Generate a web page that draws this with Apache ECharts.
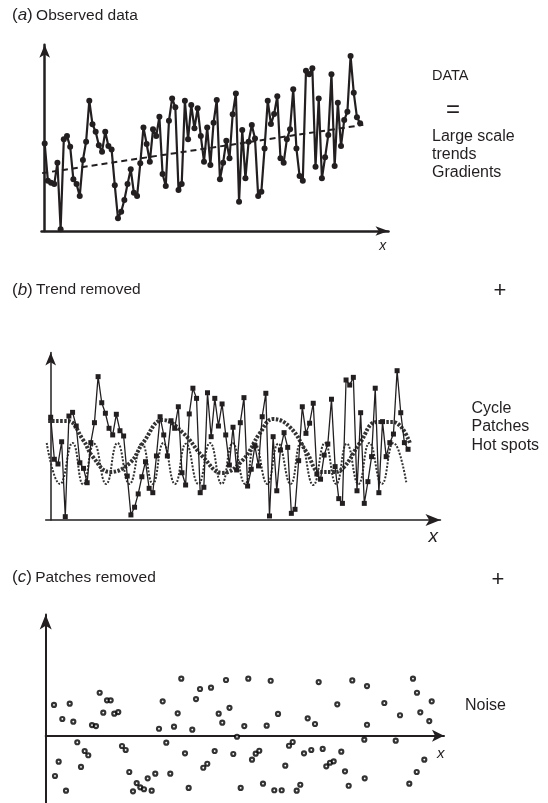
<!DOCTYPE html>
<html><head><meta charset="utf-8">
<script src="https://cdn.jsdelivr.net/npm/echarts@6/dist/echarts.min.js"></script>
<style>html,body{margin:0;padding:0;background:#fff}#c{width:548px;height:803px}</style>
</head><body><div id="c"></div>
<script>
// (a) observed data, one value per sample along x
const obsValues = [45.4,26.1,25.0,24.3,35.4,0.9,47.5,49.2,43.7,26.8,
24.3,18.1,36.8,46.3,67.5,55.3,51.4,44.5,41.1,51.4,
44.0,42.3,23.7,6.6,10.0,16.1,24.3,32.0,19.8,18.1,
35.1,53.7,45.1,35.9,52.7,49.2,59.2,29.5,23.3,57.1,
68.7,64.1,21.2,24.3,67.5,47.5,65.3,53.2,63.6,49.2,
35.9,53.7,34.2,56.1,67.9,26.8,35.4,46.8,37.7,60.5,
71.3,15.2,52.3,27.3,46.3,54.9,48.0,18.1,20.4,42.8,
67.5,55.4,60.6,69.9,37.7,35.4,47.5,52.7,73.4,42.8,
28.5,26.1,83.0,81.3,84.3,33.3,68.7,27.3,38.2,49.7,
81.3,33.7,66.5,44.0,57.5,61.8,90.7,71.6,58.9,55.8];
const trendX = [-0.8, 100];
const trendY = [30, 55];

// (b) trend removed
const detrendValues = [58.7,34.7,32.0,44.7,1.9,59.4,61.5,53.7,32.7,29.5,
21.3,44.2,55.6,81.9,67.0,61.0,52.4,48.6,60.4,51.0,
48.0,25.1,2.9,7.3,14.9,24.7,33.3,18.1,15.6,36.6,
59.0,48.6,36.6,56.7,52.4,64.7,27.0,20.0,60.6,75.3,
69.5,15.6,18.7,72.7,47.6,69.5,53.7,66.3,48.6,31.4,
53.0,28.6,55.6,69.9,19.4,29.0,42.3,30.9,59.0,72.4,
2.3,47.6,16.7,40.0,49.9,41.5,3.8,6.1,33.9,64.7,
49.5,55.3,66.7,26.3,23.3,37.1,43.4,69.0,30.5,12.2,
9.5,80.0,77.1,81.5,16.7,61.3,9.5,21.9,36.2,75.3,
15.6,56.2,36.2,44.2,49.1,85.3,61.3,44.2,40.4];
const longCycleX = [-0.7,4.5,8.9,11.6,16.3,21.7,25.3,30.8,36.3,41.8,47.0,52.7,57.4,61.0,65.6,70.3,73.9,77.4,80.2,84.8,89.5,93.9,98.5];
const longCycleY = [56.6,56.6,45.7,36.0,27.4,32.6,44.0,57.1,49.7,36.0,26.9,34.3,49.7,57.7,53.1,38.3,27.4,27.4,29.7,44.0,56.0,56.0,44.0];
const shortCycleX = [-1.1,2.55,6.0,8.9,11.9,15.2,18.3,21.6,25.0,28.0,30.9,34.1,37.1,40.5,43.7,46.9,49.9,53.3,56.0,59.4,62.4,65.8,68.6,72.0,75.2,78.3,81.2,84.4,87.4,90.8,94.0,97.6];
const shortCycleY = [44.0,20.6,44.0,20.3,43.6,20.6,44.0,20.6,43.8,20.6,44.0,20.6,43.6,20.6,44.0,20.6,43.8,20.6,44.0,20.6,43.6,20.6,44.0,20.0,44.0,20.6,43.6,20.6,44.0,20.6,44.0,20.6];

// (c) residual noise
const noiseX = [2.05,2.30,3.21,4.11,5.02,5.94,6.83,7.81,8.73,9.64,
10.53,11.45,12.44,13.35,14.24,15.16,16.07,16.96,17.95,18.87,
19.78,20.67,21.59,22.50,23.39,24.31,25.22,26.21,27.10,28.02,
28.93,29.82,30.81,31.73,32.64,33.53,34.45,35.36,36.25,37.17,
38.16,38.97,39.96,40.88,41.79,42.78,43.67,44.59,45.45,46.39,
47.31,48.22,49.11,50.10,51.02,51.93,52.82,53.74,54.65,55.64,
56.53,57.45,58.36,59.25,60.17,61.08,62.07,62.96,63.88,64.79,
65.68,66.60,67.51,68.50,69.39,70.31,71.22,72.11,73.10,74.02,
74.93,75.82,78.79,78.89,79.46,79.46,83.74,86.56,87.62,89.92,
90.83,91.75,91.82,92.64,93.63,94.86,95.46];
const noiseY = [2.39,-3.13,-2.02,1.30,-4.27,2.49,1.09,-0.51,-2.43,-1.19,
-1.52,0.83,0.75,3.34,1.79,2.75,2.75,1.71,1.84,-0.80,
-1.11,-2.82,-4.32,-3.68,-4.01,-4.16,-3.31,-4.27,-2.95,0.54,
2.67,-0.54,-2.95,0.70,1.74,4.43,-1.37,-4.06,0.47,2.85,
3.63,-2.49,-2.18,3.73,-1.19,1.71,1.01,4.33,2.17,-1.42,
-0.08,-4.06,0.75,4.43,-1.86,-1.40,-1.17,-3.73,0.78,4.27,
-4.24,1.69,-4.24,-2.33,-0.78,-0.49,-4.27,-3.81,-1.37,1.35,
-1.11,0.91,4.17,-1.03,-2.38,-2.10,-1.99,2.44,-1.24,-2.77,
-3.89,4.30,-0.31,-3.31,3.86,0.85,2.54,-0.39,1.59,-3.73,
4.43,-2.82,3.34,1.82,-1.86,1.14,2.67];

const C = '#231f20';
const F = '"Liberation Sans", Arial, Helvetica, sans-serif';
const pairs = (xs, ys) => xs.map((x, i) => [x, ys[i]]);

function axis(gi, min, max, width, arrow) {
  return {
    gridIndex: gi, type: 'value', min: min, max: max,
    axisLine: { show: true, onZero: true, symbol: ['none', 'arrow'], symbolSize: arrow,
      lineStyle: { color: C, width: width } },
    axisTick: { show: false }, axisLabel: { show: false }, splitLine: { show: false }
  };
}
function txt(x, y, text, size, align) {
  return { type: 'text', x: x, y: y, silent: true,
    style: { text: text, font: size + 'px ' + F, fill: C, verticalAlign: 'middle', align: align || 'left' } };
}
function title(x, y, letter, rest) {
  return { type: 'text', x: x, y: y, silent: true,
    style: { text: '{p|(}{i|' + letter + '}{p|)} {t|' + rest + '}', fill: C, verticalAlign: 'middle',
      rich: { p: { font: '17px ' + F, fill: C }, i: { font: 'italic 17px ' + F, fill: C }, t: { font: '15.5px ' + F, fill: C } } } };
}
function xlab(x, y, size) {
  return { type: 'text', x: x, y: y, silent: true,
    style: { text: 'x', font: 'italic ' + size + 'px ' + F, fill: C, verticalAlign: 'middle', align: 'center' } };
}

const chart = echarts.init(document.getElementById('c'), null, { renderer: 'canvas' });
chart.setOption({
  animation: false,
  backgroundColor: '#fff',
  grid: [
    { left: 41.5, top: 44.8, width: 347, height: 186.2, containLabel: false },
    { left: 45.7, top: 352.5, width: 394.8, height: 167.5, containLabel: false },
    { left: 45.7, top: 614.5, width: 398.3, height: 188.5, containLabel: false }
  ],
  xAxis: [
    axis(0, -1.0, 107.9, 2.5, [7, 13]),
    axis(1, -1.37, 106.9, 1.5, [9, 15]),
    axis(2, 0, 98.5, 2, [9, 12])
  ],
  yAxis: [
    axis(0, 0, 96.5, 2.5, [8, 13]),
    axis(1, 0, 95.7, 1.5, [8, 13]),
    axis(2, -5.23, 9.42, 2, [9, 15])
  ],
  series: [
    { type: 'line', xAxisIndex: 0, yAxisIndex: 0, data: pairs(trendX, trendY), symbol: 'none',
      lineStyle: { color: C, width: 2, type: [6, 4] }, z: 2 },
    { type: 'line', xAxisIndex: 0, yAxisIndex: 0, data: obsValues.map((v, i) => [i, v]),
      symbol: 'circle', symbolSize: 6, lineStyle: { color: C, width: 2.2 }, itemStyle: { color: C }, z: 3 },
    { type: 'line', xAxisIndex: 1, yAxisIndex: 1, data: pairs(longCycleX, longCycleY), symbol: 'none', smooth: 0.45,
      lineStyle: { color: '#333', width: 4, type: [2.5, 1.5] }, z: 2 },
    { type: 'line', xAxisIndex: 1, yAxisIndex: 1, data: pairs(shortCycleX, shortCycleY), symbol: 'none', smooth: 0.5,
      lineStyle: { color: '#333', width: 2, type: [2, 1.5] }, z: 2 },
    { type: 'line', xAxisIndex: 1, yAxisIndex: 1, data: detrendValues.map((v, i) => [i, v]),
      symbol: 'rect', symbolSize: 5, lineStyle: { color: C, width: 1.3 }, itemStyle: { color: C }, z: 3 },
    { type: 'scatter', xAxisIndex: 2, yAxisIndex: 2, data: pairs(noiseX, noiseY), symbol: 'circle', symbolSize: 4,
      itemStyle: { color: '#fff', borderColor: '#000', borderWidth: 2.2 }, z: 3 }
  ],
  graphic: [
    title(12, 15.5, 'a', 'Observed data'),
    title(12, 290, 'b', 'Trend removed'),
    title(12, 577.5, 'c', 'Patches removed'),
    txt(432, 76, 'DATA', 14.5),
    txt(453, 110, '=', 24, 'center'),
    txt(432, 137, 'Large scale', 16),
    txt(432, 154.7, 'trends', 16),
    txt(432, 172.7, 'Gradients', 16),
    txt(500, 291, '+', 22, 'center'),
    txt(471.5, 408.5, 'Cycle', 16),
    txt(471.5, 427, 'Patches', 16),
    txt(471.5, 445.5, 'Hot spots', 16),
    txt(498, 580, '+', 22, 'center'),
    txt(465, 705.5, 'Noise', 16),
    xlab(382.7, 246.5, 14),
    xlab(433.3, 536.5, 19),
    xlab(440.7, 754, 15)
  ]
});
</script></body></html>
